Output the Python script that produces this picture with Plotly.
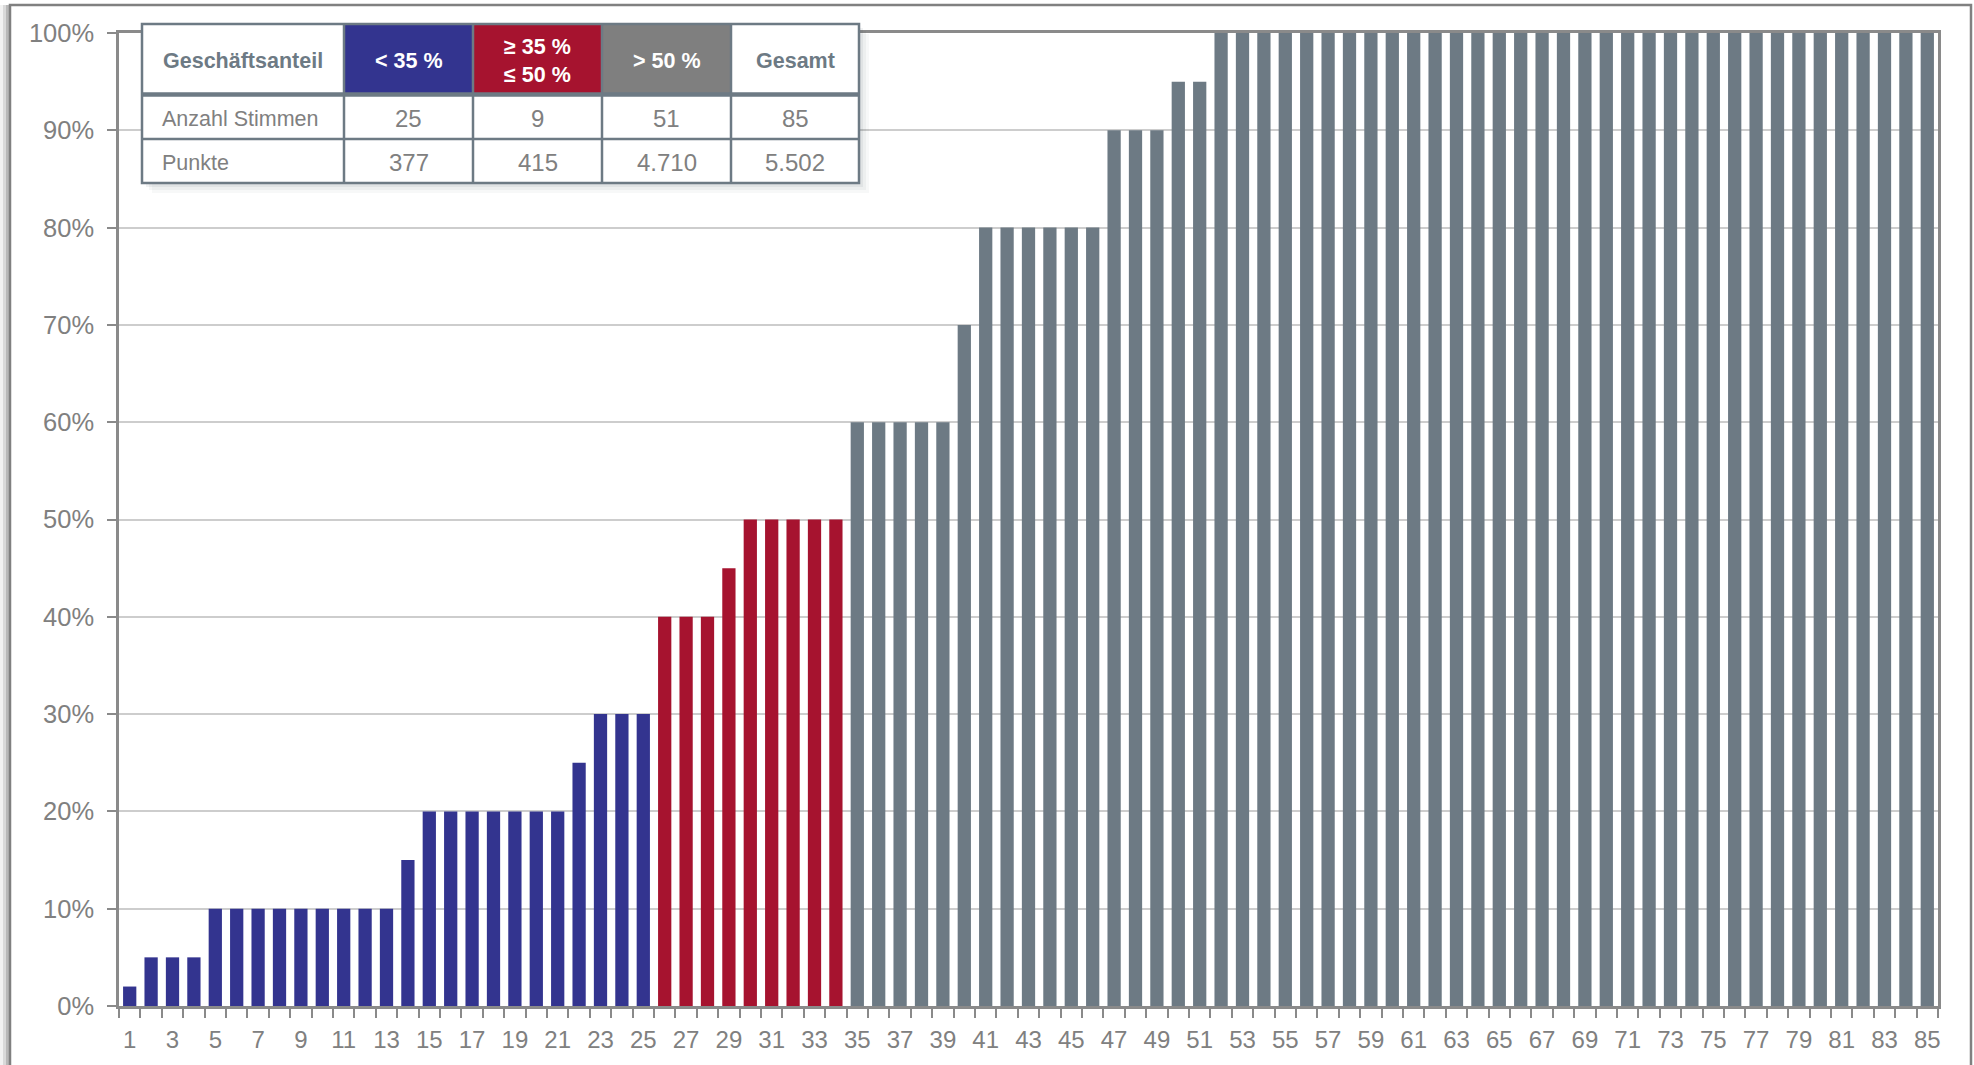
import plotly.graph_objects as go

# --- data -----------------------------------------------------------------
voters = list(range(1, 86))

# Anteil je Stimme in %, nach Gruppe
share_low = [2, 5, 5, 5, 10, 10, 10, 10, 10, 10, 10, 10, 10, 15,
             20, 20, 20, 20, 20, 20, 20, 25, 30, 30, 30]
share_mid = [40, 40, 40, 45, 50, 50, 50, 50, 50]
share_high = [60, 60, 60, 60, 60, 70, 80, 80, 80, 80, 80, 80, 90, 90, 90, 95, 95,
              100, 100, 100, 100, 100, 100, 100, 100, 100, 100, 100, 100,
              100, 100, 100, 100, 100, 100, 100, 100, 100, 100, 100, 100,
              100, 100, 100, 100, 100, 100, 100, 100, 100, 100]

table_header = ["Geschäftsanteil", "< 35 %", "≥ 35 %<br>≤ 50 %", "> 50 %", "Gesamt"]
table_rows = ["Anzahl Stimmen", "Punkte"]
anzahl_stimmen = ["25", "9", "51", "85"]
punkte = ["377", "415", "4.710", "5.502"]

# --- style ----------------------------------------------------------------
cols = {
    'blue': '#33348F',
    'red': '#A6132F',
    'slate': '#6D7A84',
    'head_gray': '#7F7F7F',
    'text': '#808080',
    'axis': '#8A8A8A',
    'grid': '#CDCDCD',
    'frame': '#808080',
}
FONT = "Liberation Sans, Arial, sans-serif"

W, H = 1974, 1065
ML, MR, MT, MB = 119, 36, 33, 59


def px(x):
    return (x - ML) / (W - ML - MR)


def py(y):
    return 1 - (y - MT) / (H - MT - MB)


def rect(x0, y0, x1, y1, fill=None, line_col=None, line_w=0, layer="above"):
    return dict(type="rect", xref="paper", yref="paper",
                x0=px(x0), x1=px(x1), y0=py(y0), y1=py(y1),
                fillcolor=fill if fill else "rgba(0,0,0,0)",
                line=dict(color=line_col if line_col else "rgba(0,0,0,0)", width=line_w),
                layer=layer)


def hline(x0, x1, y, col, w):
    return dict(type="line", xref="paper", yref="paper",
                x0=px(x0), x1=px(x1), y0=py(y), y1=py(y),
                line=dict(color=col, width=w), layer="above")


def vline(x, y0, y1, col, w):
    return dict(type="line", xref="paper", yref="paper",
                x0=px(x), x1=px(x), y0=py(y0), y1=py(y1),
                line=dict(color=col, width=w), layer="above")


# --- bars -----------------------------------------------------------------
n_low, n_mid = len(share_low), len(share_mid)
fig = go.Figure()
for xs, ys, c in [
    (voters[:n_low], share_low, cols['blue']),
    (voters[n_low:n_low + n_mid], share_mid, cols['red']),
    (voters[n_low + n_mid:], share_high, cols['slate']),
]:
    fig.add_trace(go.Bar(
        x=xs, y=[v / 100 for v in ys],
        marker=dict(color=c, line=dict(width=0)),
        showlegend=False,
    ))

# --- table (shapes + annotations) -----------------------------------------
col_edges = [142, 344, 473, 602, 731, 859]
row_edges = [24, 94.5, 139, 183]
TXT_DY = 2  # text sits a little below the cell middle
shapes = []

# soft shadow
for off, a in [(10, 0.04), (7, 0.05), (4, 0.07)]:
    shapes.append(rect(col_edges[0] + off, row_edges[0] + off,
                       col_edges[-1] + off, row_edges[-1] + off,
                       fill=f"rgba(60,70,80,{a})"))
shapes.append(rect(col_edges[0], row_edges[0], col_edges[-1], row_edges[-1], fill="white"))
head_fills = [None, cols['blue'], cols['red'], cols['head_gray'], None]
for i, f in enumerate(head_fills):
    if f:
        shapes.append(rect(col_edges[i], row_edges[0], col_edges[i + 1], row_edges[1], fill=f))
for x in col_edges[1:-1]:
    shapes.append(vline(x, row_edges[0], row_edges[-1], cols['slate'], 2.5))
shapes.append(hline(col_edges[0], col_edges[-1], row_edges[1], cols['slate'], 4.5))
shapes.append(hline(col_edges[0], col_edges[-1], row_edges[2], cols['slate'], 2.5))
shapes.append(rect(col_edges[0], row_edges[0], col_edges[-1], row_edges[-1],
                   line_col=cols['slate'], line_w=2.5))

annotations = []
for i, txt in enumerate(table_header):
    cx = (col_edges[i] + col_edges[i + 1]) / 2
    cy = (row_edges[0] + row_edges[1]) / 2 + TXT_DY
    fc = 'white' if head_fills[i] else cols['slate']
    annotations.append(dict(
        x=px(cx), y=py(cy), xref="paper", yref="paper", text=f"<b>{txt}</b>",
        showarrow=False, xanchor="center", yanchor="middle",
        font=dict(family=FONT, size=21.5, color=fc)))

for r, (lab, vals) in enumerate(zip(table_rows, [anzahl_stimmen, punkte])):
    cy = (row_edges[r + 1] + row_edges[r + 2]) / 2 + TXT_DY
    annotations.append(dict(
        x=px(col_edges[0] + 18), y=py(cy), xref="paper", yref="paper", text=lab,
        showarrow=False, xanchor="left", yanchor="middle",
        font=dict(family=FONT, size=21.5, color=cols['text'])))
    for i, v in enumerate(vals):
        cx = (col_edges[i + 1] + col_edges[i + 2]) / 2
        annotations.append(dict(
            x=px(cx), y=py(cy), xref="paper", yref="paper", text=v,
            showarrow=False, xanchor="center", yanchor="middle",
            font=dict(family=FONT, size=24, color=cols['text'])))

# --- outer frame with left shadow -----------------------------------------
for x0, a in [(0, 0.08), (3, 0.16), (6, 0.26)]:
    shapes.append(rect(x0, 5, 10, H + 20, fill=f"rgba(90,90,90,{a})", layer="below"))
shapes.append(rect(10, 5, 1971, H + 20, line_col=cols['frame'], line_w=2.5, layer="below"))

# --- axes -----------------------------------------------------------------
boundaries = [v - 0.5 for v in voters] + [voters[-1] + 0.5]

fig.update_xaxes(
    range=[0.5, 85.5],
    tickmode="array",
    tickvals=voters[::2],
    ticktext=[str(v) for v in voters[::2]],
    ticks="",
    showgrid=False,
    showline=True, linecolor=cols['axis'], linewidth=2.5, mirror=True,
    tickfont=dict(family=FONT, size=24, color=cols['text']),
    ticklabelstandoff=10,
    minor=dict(tickmode="array", tickvals=boundaries, ticks="outside",
               ticklen=9, tickwidth=1.5, tickcolor=cols['axis'], showgrid=False),
    zeroline=False,
)
fig.update_yaxes(
    range=[0, 1],
    tickmode="linear", tick0=0, dtick=0.1,
    tickformat=".0%",
    ticks="outside", ticklen=9, tickwidth=1.5, tickcolor=cols['axis'],
    showline=True, linecolor=cols['axis'], linewidth=2.5, mirror=True,
    showgrid=True, gridcolor=cols['grid'], gridwidth=1.5,
    tickfont=dict(family=FONT, size=25.5, color=cols['text']),
    ticklabelstandoff=8,
    zeroline=False,
)

fig.update_layout(
    width=W, height=H,
    autosize=False,
    margin=dict(l=ML, r=MR, t=MT, b=MB, pad=0),
    barmode="overlay",
    bargap=0.38,
    plot_bgcolor="white",
    paper_bgcolor="white",
    shapes=shapes,
    annotations=annotations,
)

# page body margin would shift the figure by 8px
fig.write_html("out.html", config={'displayModeBar': False},
               post_script="document.body.style.margin='0px';")
